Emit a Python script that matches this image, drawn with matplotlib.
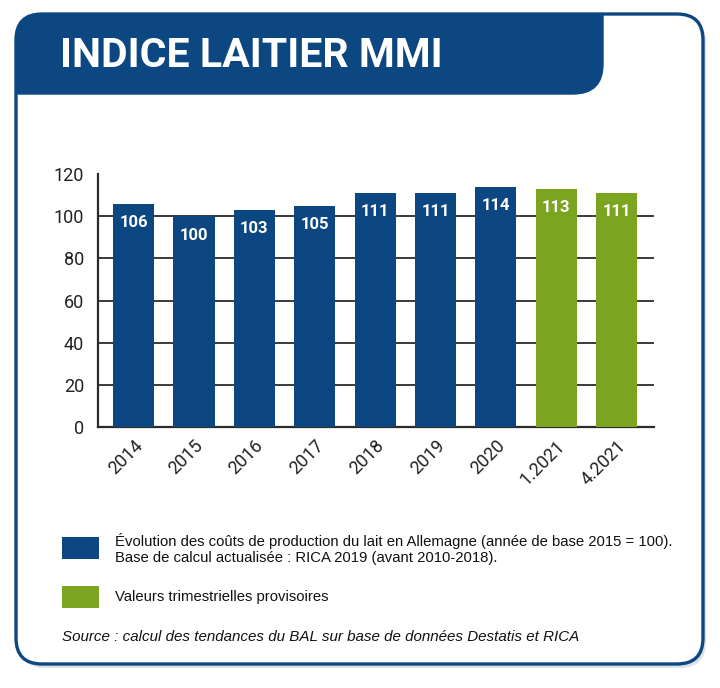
import matplotlib.pyplot as plt
from matplotlib.patches import FancyBboxPatch, PathPatch, Rectangle
from matplotlib.path import Path

# values
categories = ["2014", "2015", "2016", "2017", "2018", "2019", "2020", "1.2021", "4.2021"]
values = [106, 100, 103, 105, 111, 111, 114, 113, 111]
provisional = [False, False, False, False, False, False, False, True, True]
yticks = [0, 20, 40, 60, 80, 100, 120]

title = "INDICE LAITIER MMI"
legend_blue = ("Évolution des coûts de production du lait en Allemagne (année de base 2015 = 100).\n"
               "Base de calcul actualisée : RICA 2019 (avant 2010-2018).")
legend_green = "Valeurs trimestrielles provisoires"
source = "Source : calcul des tendances du BAL sur base de données Destatis et RICA"

BLUE = "#0c4782"
GREEN = "#7ba520"
GRID = "#2b2b2b"

W, H = 720, 688
fig = plt.figure(figsize=(W / 100, H / 100), dpi=100)

# background layer in pixel coordinates
bg = fig.add_axes([0, 0, 1, 1])
bg.set_xlim(0, W)
bg.set_ylim(H, 0)
bg.axis("off")

# soft shadow, then the card
shadow = FancyBboxPatch((19, 17), 687, 651, boxstyle="round,pad=0,rounding_size=26",
                        facecolor="#dde2e8", edgecolor="none", zorder=0)
bg.add_patch(shadow)
card = FancyBboxPatch((16, 14), 687, 650, boxstyle="round,pad=0,rounding_size=26",
                      facecolor="white", edgecolor=BLUE, linewidth=2.4, zorder=1)
bg.add_patch(card)

# header band: rounded top-left, rounded bottom-right
r1, r2 = 26, 30
x0, y0, x1, y1 = 16, 14, 603, 94
verts = [(x0, y1), (x0, y0 + r1), (x0, y0), (x0 + r1, y0), (x1, y0), (x1, y1 - r2),
         (x1, y1), (x1 - r2, y1), (x0, y1)]
codes = [Path.MOVETO, Path.LINETO, Path.CURVE3, Path.CURVE3, Path.LINETO, Path.LINETO,
         Path.CURVE3, Path.CURVE3, Path.CLOSEPOLY]
bg.add_patch(PathPatch(Path(verts, codes), facecolor=BLUE, edgecolor=BLUE, lw=1, zorder=2))
bg.text(60, 56, title, color="white", fontsize=29.5, fontweight="bold", family="Roboto",
        va="center", ha="left", zorder=3)

# legend
bg.add_patch(Rectangle((62, 537), 37, 22, facecolor=BLUE, edgecolor="none", zorder=3))
bg.add_patch(Rectangle((62, 586), 37, 22, facecolor=GREEN, edgecolor="none", zorder=3))
bg.text(115, 549, legend_blue, fontsize=10.7, family="Liberation Sans", va="center",
        ha="left", color="#111111", linespacing=1.25, zorder=3)
bg.text(115, 597, legend_green, fontsize=10.7, family="Liberation Sans", va="center",
        ha="left", color="#111111", zorder=3)
bg.text(62, 637, source, fontsize=10.9, family="Liberation Sans", style="italic",
        va="center", ha="left", color="#111111", zorder=3)

# chart
ax = fig.add_axes([98 / W, 1 - 427 / H, (654 - 98) / W, (427 - 174) / H])
ax.patch.set_alpha(0)
x = list(range(len(categories)))
colors = [GREEN if p else BLUE for p in provisional]
bars = ax.bar(x, values, width=0.68, color=colors, zorder=3)
for xi, v in zip(x, values):
    ax.text(xi, v - 9, str(v), color="white", fontsize=12, fontweight="bold",
            family="Roboto", ha="center", va="center", zorder=4)

ax.set_xlim(-0.59, len(categories) - 1 + 0.62)
ax.set_ylim(0, 120)
ax.set_yticks(yticks)
ax.set_yticklabels([str(t) for t in yticks], family="Roboto", fontsize=13, color="#222222")
for t in yticks[1:-1]:
    ax.axhline(t, color=GRID, lw=1.3, zorder=1)
ax.set_xticks(x)
ax.set_xticklabels(categories, rotation=45, ha="right", rotation_mode="anchor",
                   family="Roboto", fontsize=13, color="#222222")
ax.tick_params(axis="both", length=0)
ax.tick_params(axis="y", pad=10)
ax.tick_params(axis="x", pad=7)
for s in ["top", "right"]:
    ax.spines[s].set_visible(False)
ax.spines["left"].set_color(GRID)
ax.spines["bottom"].set_color(GRID)
ax.spines["left"].set_linewidth(1.6)
ax.spines["bottom"].set_linewidth(1.6)

fig.savefig("out.png", dpi=100)
